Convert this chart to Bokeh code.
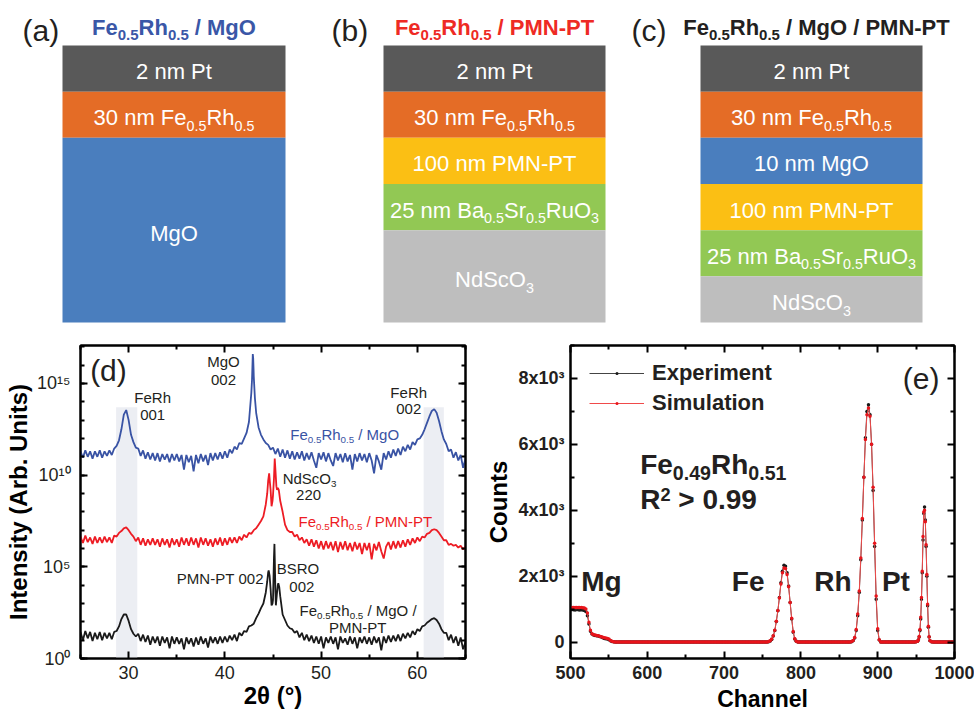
import re, glob, subprocess
from bokeh.plotting import figure
from bokeh.models import Range1d, FixedTicker, LinearAxis, LogAxis, Label, Legend, LegendItem
from bokeh.layouts import column, row
from bokeh.embed import file_html
from bokeh.resources import INLINE

# ======================= DATA =======================
# (a)-(c) layer stacks, top to bottom (schematic thickness units)
stack_a_labels = ["2 nm Pt", "30 nm Fe_{0.5}Rh_{0.5}", "MgO"]
stack_a_units = [1, 1, 4]
stack_a_colors = ["#595959", "#e46c26", "#4a7ebe"]

stack_b_labels = ["2 nm Pt", "30 nm Fe_{0.5}Rh_{0.5}", "100 nm PMN-PT",
                  "25 nm Ba_{0.5}Sr_{0.5}RuO_{3}", "NdScO_{3}"]
stack_b_units = [1, 1, 1, 1, 2]
stack_b_colors = ["#595959", "#e46c26", "#fbbf14", "#92c854", "#bebebe"]

stack_c_labels = ["2 nm Pt", "30 nm Fe_{0.5}Rh_{0.5}", "10 nm MgO", "100 nm PMN-PT",
                  "25 nm Ba_{0.5}Sr_{0.5}RuO_{3}", "NdScO_{3}"]
stack_c_units = [1, 1, 1, 1, 1, 1]
stack_c_colors = ["#595959", "#e46c26", "#4a7ebe", "#fbbf14", "#92c854", "#bebebe"]

stack_titles = ["Fe_{0.5}Rh_{0.5} / MgO", "Fe_{0.5}Rh_{0.5} / PMN-PT",
                "Fe_{0.5}Rh_{0.5} / MgO / PMN-PT"]
stack_letters = ["(a)", "(b)", "(c)"]

# (d) XRD scans: log10(intensity), scan 25..65 deg, step 0.25 deg
XRD_START, XRD_STEP = 25.0, 0.25
blue_log = [
    11.3, 10.95, 11.35, 11.0, 11.3, 10.9, 11.3, 11.0,
    11.35, 10.95, 11.3, 11.05, 11.35, 11.1, 11.45, 11.6,
    11.9, 12.5, 13.3, 13.55, 13.0, 12.2, 11.8, 11.5,
    11.45, 11.05, 11.35, 10.9, 11.25, 10.85, 11.2, 10.8,
    11.2, 10.75, 11.15, 10.85, 11.15, 10.7, 11.15, 10.8,
    11.15, 10.75, 11.1, 10.3, 11.1, 10.7, 11.05, 10.2,
    11.1, 10.65, 11.15, 10.75, 11.1, 10.55, 11.2, 10.8,
    11.2, 10.85, 11.25, 10.9, 11.3, 10.95, 11.4, 11.2,
    11.55, 11.4, 11.75, 11.7, 12.0, 12.3, 12.9, 14.5,
    15.4, 13.4, 12.6, 12.2, 11.95, 11.75, 11.65, 11.4,
    11.5, 11.15, 11.45, 11.0, 11.4, 10.95, 11.35, 10.9,
    11.3, 10.85, 11.25, 10.9, 11.3, 10.8, 11.2, 10.85,
    11.25, 10.8, 10.4, 11.2, 10.85, 11.25, 10.75, 11.2,
    10.8, 10.5, 11.2, 10.8, 11.15, 10.7, 11.2, 10.75,
    11.1, 10.3, 11.15, 10.75, 11.2, 10.8, 11.15, 10.7,
    11.2, 10.8, 10.1, 11.1, 10.75, 10.3, 11.2, 10.85,
    11.3, 10.95, 11.4, 11.05, 11.45, 11.1, 11.55, 11.3,
    11.65, 11.4, 11.8, 11.65, 11.95, 12.0, 12.2, 12.5,
    12.85, 13.2, 13.5, 13.6, 13.4, 12.95, 12.4, 11.95,
    11.7, 11.3, 11.4, 10.95, 11.25, 10.8, 11.1, 10.4,
    10.9]
blue_fine_tth = [42.82, 42.86, 42.90, 42.94, 42.98, 43.04, 43.12]
blue_fine_log = [15.2, 15.9, 16.6, 16.4, 15.8, 15.0, 14.2]

red_log = [
    6.65, 6.3, 6.7, 6.35, 6.6, 6.25, 6.65, 6.3,
    6.6, 6.3, 6.65, 6.35, 6.6, 6.3, 6.7, 6.65,
    6.85, 6.95, 7.1, 7.15, 7.0, 6.8, 6.65, 6.4,
    6.6, 6.2, 6.55, 6.15, 6.5, 6.2, 6.55, 6.2,
    6.5, 6.1, 6.55, 6.2, 6.5, 6.05, 6.55, 6.2,
    6.5, 6.1, 6.6, 6.2, 6.55, 6.15, 6.6, 6.2,
    6.55, 6.05, 6.6, 6.2, 6.55, 6.15, 6.5, 6.1,
    6.55, 6.2, 6.6, 6.15, 6.55, 6.2, 6.6, 6.3,
    6.6, 6.3, 6.65, 6.45, 6.75, 6.6, 6.85, 6.8,
    7.0, 7.1, 7.3, 7.5, 7.75, 8.4, 9.7, 9.2,
    8.9, 10.3, 9.3, 8.6, 8.0, 7.3, 7.0, 6.9,
    6.9, 6.65, 6.75, 6.45, 6.6, 6.3, 6.5, 6.15,
    6.5, 6.1, 6.45, 6.0, 6.4, 5.95, 6.4, 6.0,
    6.35, 5.9, 6.4, 5.8, 6.35, 5.95, 6.4, 5.9,
    6.3, 5.85, 6.35, 5.95, 6.3, 5.7, 6.3, 5.9,
    6.3, 5.4, 6.25, 5.9, 6.35, 5.85, 5.45, 6.1,
    6.35, 5.95, 6.4, 6.0, 6.4, 6.05, 6.45, 6.1,
    6.5, 6.2, 6.55, 6.3, 6.6, 6.4, 6.65, 6.6,
    6.8, 6.85, 7.0, 7.05, 7.0, 6.85, 6.65, 6.45,
    6.45, 6.2, 6.25, 6.15, 6.2, 6.05, 6.15, 5.95,
    6.1]
red_fine_tth = [44.4, 44.6, 44.68, 44.85, 44.95, 45.1, 45.18, 45.35, 45.42, 45.6, 45.65]
red_fine_log = [9.0, 10.1, 9.6, 8.3, 8.6, 9.8, 10.9, 9.4, 9.2, 9.2, 9.0]

black_log = [
    1.45, 1.0, 1.5, 1.1, 1.45, 0.95, 1.4, 1.05,
    1.45, 1.0, 1.4, 1.1, 1.4, 1.05, 1.45, 1.5,
    1.75, 2.15, 2.4, 2.4, 2.05, 1.6, 1.35, 1.2,
    1.35, 0.95, 1.3, 0.9, 1.25, 0.75, 1.2, 0.85,
    1.2, 0.7, 1.2, 0.85, 1.15, 0.55, 1.2, 0.8,
    1.15, 0.8, 1.1, 0.5, 1.15, 0.8, 1.1, 0.65,
    1.15, 0.75, 1.2, 0.8, 1.1, 0.6, 1.2, 0.85,
    1.15, 0.8, 1.2, 0.85, 1.2, 0.9, 1.25, 1.0,
    1.3, 0.95, 1.4, 1.25, 1.5, 1.45, 1.75, 1.8,
    1.9, 2.2, 2.45, 2.75, 3.0, 3.6, 4.7, 3.8,
    3.2, 3.6, 4.0, 3.4, 2.4, 2.1, 1.8, 1.65,
    1.6, 1.4, 1.5, 1.15, 1.4, 1.0, 1.3, 0.95,
    1.25, 0.85, 1.2, 0.8, 1.2, 0.55, 1.15, 0.85,
    1.2, 0.8, 1.15, 0.5, 1.2, 0.85, 1.1, 0.75,
    1.2, 0.8, 1.15, 0.55, 1.15, 0.85, 1.2, 0.8,
    1.15, 0.75, 1.2, 0.85, 1.15, 0.45, 1.2, 0.85,
    1.25, 0.9, 1.25, 0.95, 1.3, 0.95, 1.35, 1.1,
    1.4, 1.15, 1.5, 1.3, 1.6, 1.5, 1.75, 1.8,
    1.95, 2.05, 2.15, 2.2, 2.1, 1.9, 1.6, 1.4,
    1.4, 1.0, 1.3, 0.85, 1.2, 0.7, 1.15, 0.5,
    0.9]
black_fine_tth = [44.4, 44.55, 44.65, 44.85, 44.95, 45.1, 45.15, 45.2, 45.3, 45.4, 45.55, 45.65]
black_fine_log = [4.2, 4.8, 4.5, 2.9, 3.0, 5.5, 6.25, 5.0, 2.9, 3.5, 4.1, 3.9]

band_left = [28.7, 60.65]
band_right = [30.9, 62.75]
band_top_log = [13.7, 13.7]

xrd_y_ticks = [1e0, 1e5, 1e10, 1e15]
xrd_y_tick_labels = ["10⁰", "10⁵", "10¹⁰", "10¹⁵"]

# (e) RBS spectra (channel, counts), non-zero regions
mg_ch = list(range(500, 562, 2))
mg_exp = [980, 985, 980, 975, 985, 980, 975, 980, 970, 960, 930, 800, 550, 330, 240, 210,
          200, 190, 180, 170, 150, 130, 110, 100, 90, 70, 40, 15, 5, 0, 0]
mg_sim = [1050, 1050, 1050, 1050, 1050, 1050, 1050, 1045, 1040, 1030, 1000, 880, 600, 360,
          250, 220, 210, 200, 190, 175, 160, 145, 130, 120, 110, 90, 50, 20, 5, 0, 0]
fe_ch = list(range(756, 798, 2))
fe_exp = [0, 10, 30, 80, 180, 350, 620, 950, 1350, 1800, 2150, 2330, 2300, 2100, 1700,
          1200, 700, 300, 90, 20, 0]
fe_sim = [0, 15, 40, 90, 190, 360, 630, 960, 1340, 1760, 2100, 2250, 2230, 2050, 1680,
          1200, 720, 320, 100, 25, 0]
rh_ch = list(range(864, 906, 2))
rh_exp = [0, 10, 40, 120, 350, 800, 1500, 2500, 3700, 5000, 6200, 7000, 7200, 6900, 6000,
          4600, 2900, 1300, 350, 60, 0]
rh_sim = [0, 15, 50, 140, 380, 850, 1550, 2550, 3750, 5000, 6150, 6900, 7100, 6850, 6000,
          4700, 3000, 1400, 400, 70, 0]
pt_ch = [948, 950, 952, 953, 954, 955, 956, 957, 958, 959, 960, 961, 962, 963, 964, 965,
         966, 967, 968, 970, 972]
pt_exp = [0, 5, 20, 60, 150, 350, 700, 1300, 2100, 3100, 3900, 4100, 3700, 2900, 2000,
          1100, 450, 150, 40, 5, 0]
pt_sim = [0, 6, 25, 70, 170, 380, 750, 1350, 2150, 3200, 3950, 4000, 3650, 2950, 2050,
          1150, 480, 160, 45, 6, 0]
zero_ch = (list(range(562, 756, 2)) + list(range(798, 864, 2)) +
           list(range(906, 948, 2)) + list(range(974, 1001, 2)))

rbs_y_ticks = [0, 2000, 4000, 6000, 8000]
rbs_y_tick_labels = ["0", "2x10³", "4x10³", "6x10³", "8x10³"]

for arr in (blue_log, red_log, black_log):
    assert len(arr) == 161, len(arr)

# ======================= TEXT HELPERS =======================
SANS = "Liberation Sans"
DARK = "#231f20"
NBSP = "\u00a0"


def _font_path(bold):
    try:
        out = subprocess.run(["fc-match", "-f", "%{file}",
                              SANS + (":style=Bold" if bold else ":style=Regular")],
                             capture_output=True, text=True, timeout=5).stdout.strip()
        if out:
            return out
    except Exception:
        pass
    name = "LiberationSans-Bold.ttf" if bold else "LiberationSans-Regular.ttf"
    hits = glob.glob("/usr/share/fonts/**/" + name, recursive=True)
    return hits[0] if hits else None


_fonts = {}


def tw(s, size, bold=False):
    if bold not in _fonts:
        f = None
        try:
            from PIL import ImageFont
            p = _font_path(bold)
            f = ImageFont.truetype(p, 100) if p else None
        except Exception:
            f = None
        _fonts[bold] = f
    f = _fonts[bold]
    if f is None:
        return 0.56 * size * len(s)
    return f.getlength(s) * size / 100.0


def parse(markup):
    parts = []
    for m in re.finditer(r"_\{([^}]*)\}|\^\{([^}]*)\}|([^_^]+)", markup):
        if m.group(1) is not None:
            parts.append((m.group(1), "sub"))
        elif m.group(2) is not None:
            parts.append((m.group(2), "sup"))
        else:
            parts.append((m.group(3), "n"))
    return parts


MID = 0.35  # middle of the em box above the baseline


def rich(fig, x, y, markup, size, color, bold=False, align="center", dx=0, dy=0,
         ratio=0.65, sub=0.25, sup=0.45):
    """(x, y) = vertical middle of the main text"""
    parts = parse(markup)
    small = size * ratio
    ws = [tw(t, size if k == "n" else small, bold) for t, k in parts]
    W = sum(ws)
    cx = {"left": 0, "center": -W / 2, "right": -W}[align] + dx
    for (t, k), w in zip(parts, ws):
        s = size if k == "n" else small
        if k == "n":
            off = dy
        else:
            off = dy - MID * (size - small) + (-sub * size if k == "sub" else sup * size)
        fig.add_layout(Label(x=x, y=y, x_offset=cx, y_offset=off, text=t.replace(" ", NBSP),
                             text_font=SANS, text_font_size=f"{s:.1f}px",
                             text_font_style="bold" if bold else "normal",
                             text_color=color, text_align="left",
                             text_baseline="middle"))
        cx += w


# ======================= TOP: LAYER STACKS =======================
TOP_H = 338
top = figure(width=974, height=TOP_H, x_range=Range1d(0, 974), y_range=Range1d(TOP_H, 0),
             x_axis_type=None, y_axis_type=None, toolbar_location=None,
             output_backend="svg", min_border=0, outline_line_color=None)

STACK_TOP, STACK_BOTTOM = 45, 322
stack_boxes = [(62, 285), (383, 605), (700, 922)]
title_colors = ["#3a57a7", "#ee2a24", DARK]
letter_x = [22, 331, 631]
stacks = [(stack_a_labels, stack_a_units, stack_a_colors),
          (stack_b_labels, stack_b_units, stack_b_colors),
          (stack_c_labels, stack_c_units, stack_c_colors)]

for i, (labels, units, colors) in enumerate(stacks):
    left, right = stack_boxes[i]
    unit = (STACK_BOTTOM - STACK_TOP) / sum(units)
    tops, bots = [], []
    acc = 0
    for u in units:
        tops.append(STACK_TOP + acc * unit)
        acc += u
        bots.append(STACK_TOP + acc * unit)
    top.quad(left=[left] * len(units), right=[right] * len(units), top=tops, bottom=bots,
             fill_color=colors, line_color=None)
    cxm = (left + right) / 2
    for lab, t, b in zip(labels, tops, bots):
        rich(top, cxm, (t + b) / 2 + 3, lab, 22, "white")
    rich(top, cxm + (5 if i == 2 else 0), 27, stack_titles[i], 22, title_colors[i], bold=True,
         ratio=0.68, sub=0.22)
    rich(top, letter_x[i], 30, stack_letters[i], 30, DARK, align="left")

# ======================= (d) XRD =======================
BOT_H = 717 - TOP_H


def merge(grid_log, fx, flog):
    pts = [(XRD_START + XRD_STEP * i, v) for i, v in enumerate(grid_log)] + list(zip(fx, flog))
    pts.sort()
    return [p[0] for p in pts], [10 ** p[1] for p in pts]


YTOP = 10 ** 17.07
pd_ = figure(width=482, height=BOT_H, x_range=Range1d(25, 65), y_range=Range1d(1, YTOP),
             y_axis_type="log", toolbar_location=None, output_backend="svg",
             min_border_left=80, min_border_right=17, min_border_top=6, min_border_bottom=59,
             outline_line_color="black", outline_line_width=2)
pd_.grid.visible = False

pd_.quad(left=band_left, right=band_right, bottom=[1, 1],
         top=[10 ** v for v in band_top_log], fill_color="#eceef3", line_color=None)

for grid_log, fx, flog, col in [(black_log, black_fine_tth, black_fine_log, "#1a1a1a"),
                                (red_log, red_fine_tth, red_fine_log, "#ed1c24"),
                                (blue_log, blue_fine_tth, blue_fine_log, "#3953a4")]:
    xs, ys = merge(grid_log, fx, flog)
    pd_.line(xs, ys, line_color=col, line_width=1.8)

xt_d = FixedTicker(ticks=[30, 40, 50, 60], minor_ticks=[25, 35, 45, 55, 65])
yt_d = FixedTicker(ticks=xrd_y_ticks, minor_ticks=[10.0 ** k for k in range(0, 18)])


def style_axis(ax, show_labels, ticks=None, bold=False):
    ax.axis_line_width = 2
    ax.axis_line_color = "black"
    ax.major_tick_in = 7
    ax.major_tick_out = 0
    ax.minor_tick_in = 4
    ax.minor_tick_out = 0
    ax.major_tick_line_width = 2
    ax.minor_tick_line_width = 2
    ax.major_tick_line_color = "black"
    ax.minor_tick_line_color = "black"
    if show_labels:
        ax.major_label_text_font = SANS
        ax.major_label_text_font_size = "18px"
        ax.major_label_text_color = DARK
        ax.major_label_text_font_style = "bold" if bold else "normal"
    else:
        ax.major_label_text_font_size = "1px"
        ax.major_label_standoff = 0
        ax.major_label_overrides = {t: "" for t in ticks}


def style_title(ax, text, size, standoff):
    ax.axis_label = text
    ax.axis_label_text_font = SANS
    ax.axis_label_text_font_size = f"{size}px"
    ax.axis_label_text_font_style = "bold"
    ax.axis_label_text_color = "black"
    ax.axis_label_standoff = standoff


pd_.xaxis.ticker = xt_d
pd_.yaxis.ticker = yt_d
style_axis(pd_.xaxis[0], True)
pd_.xaxis.major_label_standoff = 7
style_axis(pd_.yaxis[0], True)
pd_.yaxis.major_label_standoff = 10
pd_.yaxis.major_label_overrides = dict(zip(xrd_y_ticks, xrd_y_tick_labels))
style_title(pd_.xaxis[0], "2θ (°)", 24, 0)
style_title(pd_.yaxis[0], "Intensity (Arb. Units)", 24, 2)

ax_top = LinearAxis(ticker=xt_d)
style_axis(ax_top, False, ticks=[30, 40, 50, 60])
pd_.add_layout(ax_top, "above")
ax_right = LogAxis(ticker=yt_d)
style_axis(ax_right, False, ticks=xrd_y_ticks)
pd_.add_layout(ax_right, "right")

rich(pd_, 26.0, 10 ** 15.7, "(d)", 30, DARK, align="left")
rich(pd_, 32.5, 10 ** 14.24, "FeRh", 15, DARK)
rich(pd_, 32.5, 10 ** 13.26, "001", 15, DARK)
rich(pd_, 39.86, 10 ** 16.2, "MgO", 15, DARK)
rich(pd_, 39.86, 10 ** 15.2, "002", 15, DARK)
rich(pd_, 59.1, 10 ** 14.5, "FeRh", 15, DARK)
rich(pd_, 59.1, 10 ** 13.6, "002", 15, DARK)
rich(pd_, 46.8, 10 ** 12.2, "Fe_{0.5}Rh_{0.5} / MgO", 15, "#3953a4", align="left")
rich(pd_, 48.8, 10 ** 9.84, "NdScO_{3}", 15, DARK)
rich(pd_, 48.7, 10 ** 8.9, "220", 15, DARK)
rich(pd_, 47.65, 10 ** 7.45, "Fe_{0.5}Rh_{0.5} / PMN-PT", 15, "#ed1c24", align="left")
rich(pd_, 39.5, 10 ** 4.35, "PMN-PT 002", 15, DARK)
rich(pd_, 47.6, 10 ** 4.9, "BSRO", 15, DARK)
rich(pd_, 48.0, 10 ** 3.9, "002", 15, DARK)
rich(pd_, 47.75, 10 ** 2.6, "Fe_{0.5}Rh_{0.5} / MgO /", 15, DARK, align="left")
rich(pd_, 53.8, 10 ** 1.7, "PMN-PT", 15, DARK)

# ======================= (e) RBS =======================
pts_exp = sorted(list(zip(mg_ch, mg_exp)) + list(zip(fe_ch, fe_exp)) + list(zip(rh_ch, rh_exp)) +
                 list(zip(pt_ch, pt_exp)) + [(c, 0) for c in zero_ch])
pts_sim = sorted(list(zip(mg_ch, mg_sim)) + list(zip(fe_ch, fe_sim)) + list(zip(rh_ch, rh_sim)) +
                 list(zip(pt_ch, pt_sim)) + [(c, 0) for c in zero_ch])
ch_e = [p[0] for p in pts_exp]
cnt_e = [p[1] for p in pts_exp]
ch_s = [p[0] for p in pts_sim]
cnt_s = [p[1] for p in pts_sim]

pe = figure(width=974 - 482, height=BOT_H, x_range=Range1d(500, 1000),
            y_range=Range1d(-500, 9000), toolbar_location=None, output_backend="svg",
            min_border_left=86, min_border_right=20, min_border_top=7, min_border_bottom=59,
            outline_line_color="black", outline_line_width=2)
pe.grid.visible = False

l_exp = pe.line(ch_e, cnt_e, line_color="#444444", line_width=1)
s_exp = pe.scatter(ch_e, cnt_e, marker="dot", size=14, line_color="#1a1a1a")
l_sim = pe.line(ch_s, cnt_s, line_color="#f04a4a", line_width=1)
s_sim = pe.scatter(ch_s, cnt_s, marker="dot", size=14, line_color="#e8141b")

xt_e = FixedTicker(ticks=[500, 600, 700, 800, 900, 1000],
                   minor_ticks=[550, 650, 750, 850, 950])
yt_e = FixedTicker(ticks=rbs_y_ticks, minor_ticks=[1000, 3000, 5000, 7000, 9000])
pe.xaxis.ticker = xt_e
pe.yaxis.ticker = yt_e
style_axis(pe.xaxis[0], True, bold=True)
style_axis(pe.yaxis[0], True, bold=True)
pe.xaxis.major_label_standoff = 7
pe.yaxis.major_label_standoff = 6
pe.yaxis.major_label_overrides = dict(zip(rbs_y_ticks, rbs_y_tick_labels))
style_title(pe.xaxis[0], "Channel", 23, 4)
style_title(pe.yaxis[0], "Counts", 24, 3)

ax_top_e = LinearAxis(ticker=xt_e)
style_axis(ax_top_e, False, ticks=[500, 600, 700, 800, 900, 1000])
pe.add_layout(ax_top_e, "above")
ax_right_e = LinearAxis(ticker=yt_e)
style_axis(ax_right_e, False, ticks=rbs_y_ticks)
pe.add_layout(ax_right_e, "right")

legend = Legend(items=[LegendItem(label="Experiment", renderers=[l_exp, s_exp]),
                       LegendItem(label="Simulation", renderers=[l_sim, s_sim])],
                location=(19, 240), label_text_font=SANS, label_text_font_style="bold",
                label_text_font_size="22px", label_text_color=DARK, glyph_width=55,
                glyph_height=30, label_height=30, label_standoff=8, spacing=0, padding=0,
                margin=0, border_line_alpha=0, background_fill_alpha=0)
pe.add_layout(legend)

rich(pe, 932.6, 8000, "(e)", 30, DARK, align="left")
rich(pe, 590.7, 5400, "Fe_{0.49}Rh_{0.51}", 28, DARK, bold=True, align="left", ratio=0.7,
     sub=0.22)
rich(pe, 590.7, 4314, "R^{2} > 0.99", 28, DARK, bold=True, align="left", sup=0.3)
rich(pe, 514.0, 1840, "Mg", 28, DARK, bold=True, align="left")
rich(pe, 710.0, 1840, "Fe", 28, DARK, bold=True, align="left")
rich(pe, 817.5, 1840, "Rh", 28, DARK, bold=True, align="left")
rich(pe, 905.5, 1840, "Pt", 28, DARK, bold=True, align="left")

layout = column(top, row(pd_, pe))
open("out.html", "w").write(file_html(layout, INLINE))
